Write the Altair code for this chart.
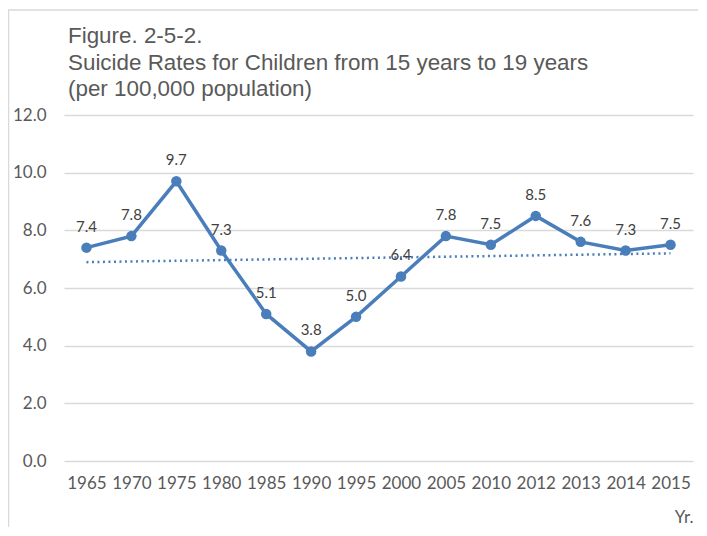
import altair as alt
import pandas as pd
import numpy as np

years = ["1965", "1970", "1975", "1980", "1985", "1990", "1995",
         "2000", "2005", "2010", "2012", "2013", "2014", "2015"]
rates = [7.4, 7.8, 9.7, 7.3, 5.1, 3.8, 5.0, 6.4, 7.8, 7.5, 8.5, 7.6, 7.3, 7.5]
title_lines = ["Figure. 2-5-2.",
               "Suicide Rates for Children from 15 years to 19 years",
               "(per 100,000 population)"]

# Linear trendline (Excel style, fitted against the category index)
idx = np.arange(1, len(rates) + 1)
slope, intercept = np.polyfit(idx, rates, 1)
trend = [float(slope * i + intercept) for i in idx]

df = pd.DataFrame({"year": years, "rate": rates, "trend": trend})
one = pd.DataFrame({"k": [0]})

BLUE = "#4a7ebb"
GREY = "#595959"

x_enc = alt.X(
    "year:N", sort=years,
    axis=alt.Axis(
        title="Yr.", titleAnchor="end", titleAlign="right", titleFont="Lato",
        titleFontSize=17, titleFontWeight="normal", titleColor=GREY, titlePadding=18,
        labelAngle=0, labelFont="Lato", labelFontSize=17, labelColor=GREY,
        labelPadding=14, ticks=False, domain=False, grid=False,
    ),
)
y_enc = alt.Y(
    "rate:Q",
    scale=alt.Scale(domain=[0, 12], nice=False),
    axis=alt.Axis(
        title=None, values=[0, 2, 4, 6, 8, 10, 12], format=".1f",
        labelFont="Lato", labelFontSize=17, labelColor=GREY, labelPadding=18,
        ticks=False, domain=False, grid=True, gridColor="#d9d9d9", gridWidth=1.3,
    ),
)

base = alt.Chart(df)

trend_line = base.mark_line(color=BLUE, strokeWidth=2.5, strokeDash=[2, 3.5]).encode(
    x=x_enc, y=alt.Y("trend:Q", scale=alt.Scale(domain=[0, 12], nice=False))
)
line = base.mark_line(color=BLUE, strokeWidth=3.5).encode(x=x_enc, y=y_enc)
points = base.mark_circle(color=BLUE, size=110, opacity=1).encode(x=x_enc, y=y_enc)
labels = base.mark_text(
    font="Lato", fontSize=15, color="#404040", dy=-21, baseline="middle"
).encode(x=x_enc, y=y_enc, text=alt.Text("rate:Q", format=".1f"))

title_layers = [
    alt.Chart(one).mark_text(
        text=t, font="Liberation Sans", fontSize=22.4, color=GREY,
        align="left", baseline="alphabetic",
    ).encode(x=alt.value(4), y=alt.value(yv))
    for t, yv in zip(title_lines, [-72, -45, -19])
]

frame_left = alt.Chart(one).mark_rule(color="#d9d9d9", strokeWidth=1.5).encode(
    x=alt.value(-55.5), y=alt.value(-105), y2=alt.value(412)
)
frame_top = alt.Chart(one).mark_rule(color="#d9d9d9", strokeWidth=1.5).encode(
    x=alt.value(-56), x2=alt.value(634), y=alt.value(-105)
)

chart = alt.layer(
    frame_left, frame_top, *title_layers, trend_line, line, points, labels
).properties(
    width=629,
    height=346,
    autosize=alt.AutoSizeParams(type="none"),
    padding={"left": 56, "top": 107, "right": 6, "bottom": 66},
).configure_view(stroke=None)

chart.save("out.html", embed_options={"renderer": "svg", "actions": False})
